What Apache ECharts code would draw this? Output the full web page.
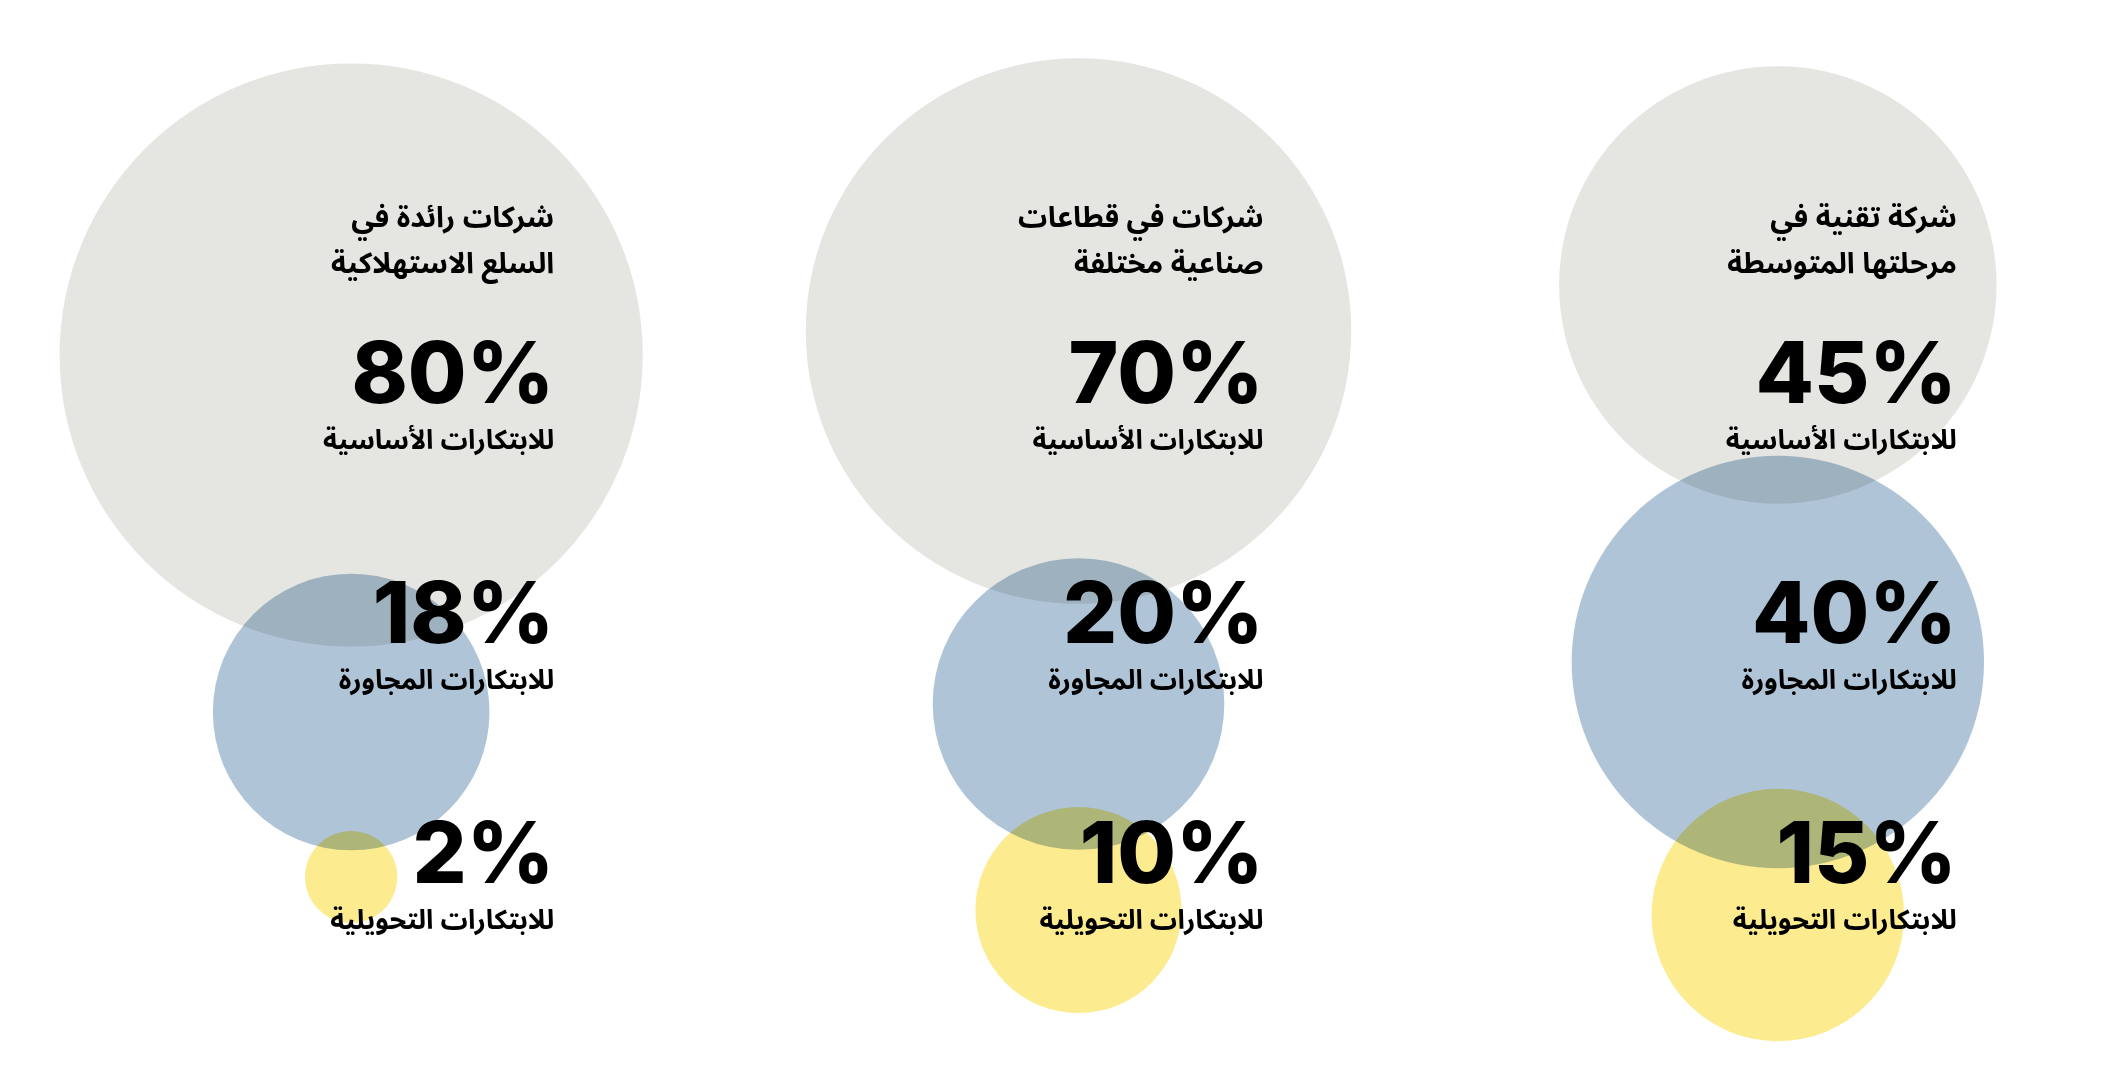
<!DOCTYPE html>
<html>
<head>
<meta charset="utf-8">
<script src="https://cdn.jsdelivr.net/npm/echarts@6/dist/echarts.min.js"></script>
<style>
    html, body { margin: 0; padding: 0; background: #fff; }
    #bubbles { width: 2107px; height: 1080px; }
</style>
</head>
<body>
<div id="bubbles"></div>
<script>
// companies (columns), innovation types (rows) and shares in %
var companies = [
    'شركات رائدة في\nالسلع الاستهلاكية',
    'شركات في قطاعات\nصناعية مختلفة',
    'شركة تقنية في\nمرحلتها المتوسطة'
];
var innovationTypes = [
    'للابتكارات الأساسية',
    'للابتكارات المجاورة',
    'للابتكارات التحويلية'
];
var coreShare = [80, 70, 45];
var adjacentShare = [18, 20, 40];
var transformationalShare = [2, 10, 15];

// layout only: nudges of each bubble from its grid cell, and text anchor per column
var bubbleNudge = [
    [[0, -17], [0, 100], [0, 25]],
    [[25, -41], [25, 92], [25, 58]],
    [[22, -87], [22, 50], [22, 63]]
];
var textShift = [203, 210, 201];
var colors = ['#e5e6e1', '#b0c4d8', '#fdec8f'];
var arabicFont = "'Noto Sans Arabic', 'DejaVu Sans', sans-serif";
var numFont = "Inter, 'Noto Sans', sans-serif";

var shares = [coreShare, adjacentShare, transformationalShare];

function bubbleData(row) {
    return shares[row].map(function (v, ci) {
        return {
            value: [ci, row, v],
            symbolOffset: bubbleNudge[ci][row]
        };
    });
}

var textData = [];
shares.forEach(function (arr, row) {
    arr.forEach(function (v, ci) {
        textData.push({
            value: [ci, row, v],
            label: { offset: [textShift[ci], 28] }
        });
    });
});

var titleData = companies.map(function (name, ci) {
    return {
        value: [ci, 0, name],
        label: { offset: [textShift[ci], -126] }
    };
});

var myChart = echarts.init(document.getElementById('bubbles'), null, { renderer: 'canvas' });

var bubbleSeries = [0, 1, 2].map(function (row) {
    return {
        type: 'scatter',
        name: innovationTypes[row],
        data: bubbleData(row),
        symbolSize: function (val) {
            return 2 * 32.6 * Math.sqrt(val[2]);
        },
        itemStyle: { color: colors[row], opacity: 1 },
        blendMode: 'multiply',
        silent: true,
        z: 1
    };
});

var option = {
    backgroundColor: '#ffffff',
    animation: false,
    grid: { left: 0, right: 0, top: 252, height: 720 },
    xAxis: { type: 'category', data: companies, show: false },
    yAxis: { type: 'category', data: innovationTypes, inverse: true, show: false },
    series: bubbleSeries.concat([
        {
            type: 'scatter',
            name: 'values',
            data: textData,
            symbolSize: 1,
            itemStyle: { color: '#000', opacity: 0 },
            silent: true,
            z: 5,
            label: {
                show: true,
                position: 'inside',
                align: 'right',
                verticalAlign: 'middle',
                color: '#000',
                opacity: 1,
                formatter: function (p) {
                    return '{num|' + p.value[2] + '%}\n{lbl|' + innovationTypes[p.value[1]] + '}';
                },
                rich: {
                    num: {
                        fontFamily: numFont, fontSize: 85, fontWeight: 800,
                        color: '#000', lineHeight: 90, align: 'right'
                    },
                    lbl: {
                        fontFamily: arabicFont, fontSize: 27, fontWeight: 'bold',
                        color: '#000', lineHeight: 46, align: 'right'
                    }
                }
            }
        },
        {
            type: 'scatter',
            name: 'titles',
            data: titleData,
            symbolSize: 1,
            itemStyle: { color: '#000', opacity: 0 },
            silent: true,
            z: 5,
            label: {
                show: true,
                position: 'inside',
                align: 'right',
                verticalAlign: 'middle',
                fontFamily: arabicFont,
                fontSize: 29,
                fontWeight: 'bold',
                color: '#000',
                opacity: 1,
                lineHeight: 46,
                formatter: function (p) {
                    return companies[p.value[0]];
                }
            }
        }
    ])
};

myChart.setOption(option);
</script>
</body>
</html>
